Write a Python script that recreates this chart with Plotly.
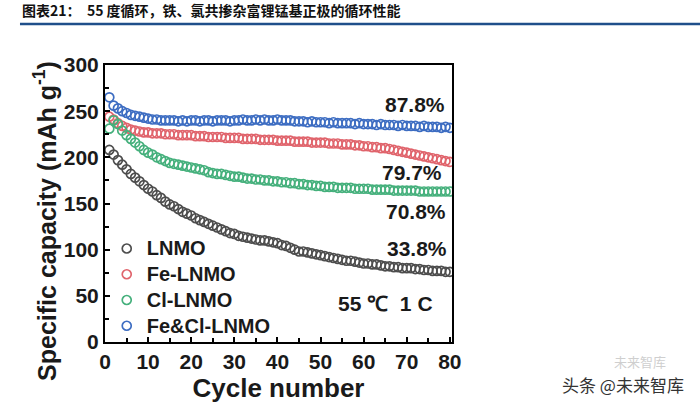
import plotly.graph_objects as go

cycles = list(range(1, 81))

lnmo = [208, 203, 197, 192, 187, 182, 178, 174, 170, 166,
        163, 159, 156, 152, 149, 147, 144, 141, 139, 137,
        134, 132, 130, 128, 126, 124, 122, 120, 118, 117,
        115, 114, 113, 112, 111, 110, 110, 109, 108, 107,
        105, 104, 102, 100, 98, 98, 97, 96, 95, 94,
        93, 92, 91, 90, 89, 88, 88, 87, 86, 85,
        85, 84, 84, 83, 82, 82, 81, 81, 80, 80,
        80, 79, 79, 78, 78, 77, 77, 77, 76, 76]

fe_lnmo = [244, 241, 237, 234, 232, 230, 229, 228, 227, 227,
           226, 226, 226, 225, 225, 225, 224, 224, 224, 224,
           223, 223, 223, 222, 222, 222, 222, 221, 221, 221,
           221, 220, 220, 220, 220, 219, 219, 219, 219, 218,
           218, 218, 218, 217, 217, 217, 217, 216, 216, 216,
           216, 215, 215, 215, 214, 214, 214, 213, 213, 212,
           212, 211, 211, 210, 210, 209, 208, 207, 206, 205,
           204, 203, 202, 201, 200, 199, 198, 197, 196, 195]

cl_lnmo = [231, 240, 236, 229, 224, 220, 216, 212, 208, 205,
           203, 200, 198, 196, 194, 193, 192, 191, 190, 189,
           188, 187, 186, 184, 183, 182, 182, 181, 180, 179,
           179, 178, 177, 177, 176, 176, 175, 175, 174, 174,
           173, 173, 172, 172, 171, 171, 170, 170, 169, 169,
           168, 168, 168, 167, 167, 167, 167, 166, 166, 166,
           166, 165, 165, 165, 165, 165, 164, 164, 164, 164,
           164, 164, 163, 163, 163, 163, 163, 163, 163, 163]

fecl_lnmo = [265, 256, 253, 250, 248, 246, 245, 244, 243, 242,
             241, 241, 240, 240, 240, 240, 239, 240, 239, 240,
             240, 239, 240, 240, 239, 240, 240, 240, 239, 240,
             240, 241, 240, 240, 241, 240, 241, 240, 240, 241,
             240, 240, 240, 239, 239, 239, 238, 239, 238, 238,
             238, 237, 238, 237, 237, 237, 237, 236, 237, 236,
             236, 236, 235, 236, 235, 235, 235, 234, 235, 234,
             234, 234, 233, 234, 233, 233, 233, 232, 233, 232]

series_names = ["LNMO", "Fe-LNMO", "Cl-LNMO", "Fe&Cl-LNMO"]
series_values = [lnmo, fe_lnmo, cl_lnmo, fecl_lnmo]
series_colors = ["#4d4d4d", "#e0646c", "#45b07c", "#3d6dc2"]

retention_labels = ["87.8%", "79.7%", "70.8%", "33.8%"]
retention_x = [72, 71.2, 72.2, 72.3]
retention_y = [257, 184, 141, 101.5]

title_text = "图表21：  55 度循环，铁、氯共掺杂富锂锰基正极的循环性能"
x_title = "Cycle number"
y_title = "Specific capacity (mAh g<sup>-1</sup>)"

BOLD = dict(family="Liberation Sans, Arial, sans-serif", weight="bold", color="#1a1a1a")

fig = go.Figure()
for name, vals, col in zip(series_names, series_values, series_colors):
    fig.add_trace(go.Scatter(
        x=cycles, y=vals, name=f'<span style="font-size:20px">{name}</span>', mode="markers",
        marker=dict(symbol="circle-open", size=9, color=col, line=dict(width=1.7, color=col)),
    ))

for t, xv, yv in zip(retention_labels, retention_x, retention_y):
    fig.add_annotation(x=xv, y=yv, text=t, showarrow=False, xref="x", yref="y",
                       font=dict(BOLD, size=21))

fig.add_annotation(x=65, y=42, text="55 ℃  1 C", showarrow=False, xref="x", yref="y",
                   font=dict(BOLD, size=21))

# y axis title (placed as rotated text)
fig.add_annotation(x=-0.173, y=0.437, xref="paper", yref="paper", xanchor="center", yanchor="middle",
                   text=y_title, textangle=-90, showarrow=False, font=dict(BOLD, size=25))

# page title and underline
fig.add_annotation(x=-0.245, y=1.20, xref="paper", yref="paper", xanchor="left", yanchor="middle",
                   text=title_text, showarrow=False,
                   font=dict(family="Noto Sans CJK SC", weight="bold", size=14, color="#111111"))
fig.add_shape(type="line", xref="paper", yref="paper", x0=-0.245, x1=1.72, y0=1.148, y1=1.148,
              line=dict(color="#1f4f8a", width=2.5))

# watermark
fig.add_annotation(x=1.542, y=-0.072, xref="paper", yref="paper", xanchor="center", yanchor="middle",
                   text="未来智库", showarrow=False,
                   font=dict(family="Noto Sans CJK SC", size=13, color="#cfcfcf"))
fig.add_annotation(x=1.493, y=-0.152, xref="paper", yref="paper", xanchor="center", yanchor="middle",
                   text="头条 @未来智库", showarrow=False,
                   font=dict(family="Noto Sans CJK SC", size=17, color="#333333"))

fig.update_xaxes(range=[0, 80.5], tickmode="linear", tick0=0, dtick=10,
                 ticks="inside", ticklen=5, tickwidth=1.5, tickcolor="black",
                 minor=dict(dtick=5, ticks="inside", ticklen=4, tickcolor="black"),
                 showline=True, linecolor="black", linewidth=2, mirror=True,
                 showgrid=False, zeroline=False,
                 tickfont=dict(BOLD, size=21),
                 title=dict(text=x_title, font=dict(BOLD, size=26), standoff=2))
fig.update_yaxes(range=[0, 300], tickmode="linear", tick0=0, dtick=50,
                 ticks="inside", ticklen=5, tickwidth=1.5, tickcolor="black",
                 minor=dict(dtick=25, ticks="inside", ticklen=4, tickcolor="black"),
                 showline=True, linecolor="black", linewidth=2, mirror=True,
                 showgrid=False, zeroline=False,
                 tickfont=dict(BOLD, size=21))

fig.update_layout(
    width=700, height=403,
    margin=dict(l=105, r=248, t=65, b=61, autoexpand=False),
    paper_bgcolor="white", plot_bgcolor="white",
    showlegend=True,
    legend=dict(x=0.005, y=0.402, xanchor="left", yanchor="top", bgcolor="rgba(0,0,0,0)",
                font=dict(BOLD, size=17.5), itemwidth=30, tracegroupgap=0),
)

fig.write_html("out.html")
